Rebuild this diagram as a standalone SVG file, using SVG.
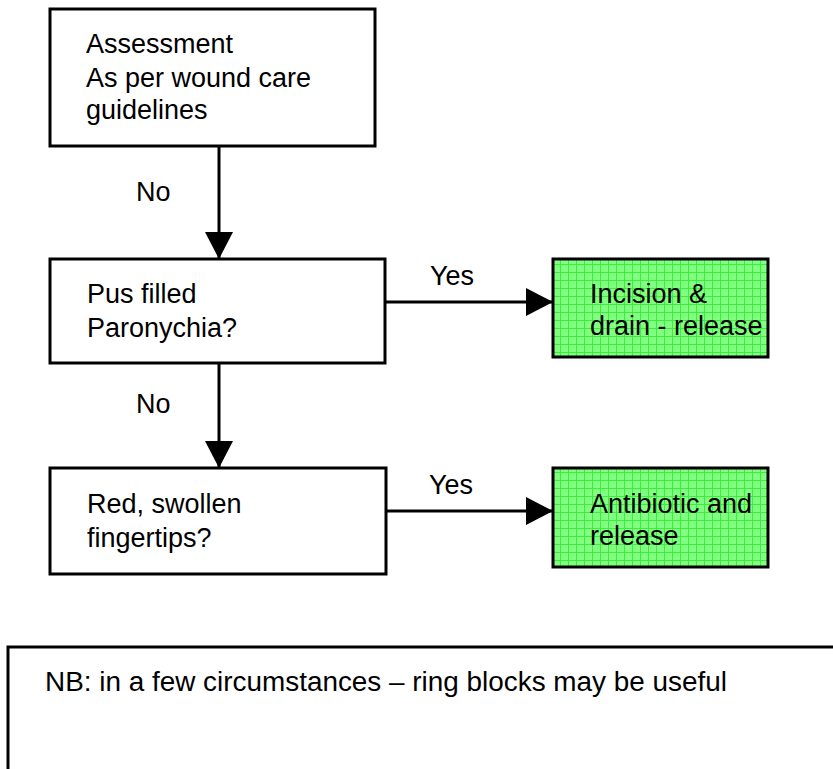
<svg xmlns="http://www.w3.org/2000/svg" width="833" height="769" viewBox="0 0 833 769">
<style>
.box{fill:#fff;stroke:#000;stroke-width:3}
.gbox{fill:url(#grid);stroke:#000;stroke-width:3}
.t{font-family:"Liberation Sans",Arial,sans-serif;font-size:27px;fill:#000}
.c{stroke:#000;stroke-width:3;fill:none}
</style>
<defs>
<pattern id="grid" width="8" height="8" patternUnits="userSpaceOnUse">
<rect width="8" height="8" fill="#80FF80"/>
<path d="M0 0.5H8M0.5 0V8" stroke="#3EEB3E" stroke-width="1"/>
</pattern>
<marker id="ah" markerWidth="27" markerHeight="28" refX="27" refY="14" orient="auto" markerUnits="userSpaceOnUse">
<path d="M0 0L27 14L0 28Z" fill="#000"/>
</marker>
</defs>
<g id="connectors">
<line class="c" x1="219" y1="146" x2="219" y2="259" marker-end="url(#ah)"/>
<line class="c" x1="219" y1="363" x2="219" y2="468" marker-end="url(#ah)"/>
<line class="c" x1="385" y1="302" x2="553" y2="302" marker-end="url(#ah)"/>
<line class="c" x1="386" y1="511" x2="553" y2="511" marker-end="url(#ah)"/>
<text class="t" x="136" y="201">No</text>
<text class="t" x="136" y="413">No</text>
<text class="t" x="430" y="285">Yes</text>
<text class="t" x="429" y="494">Yes</text>
</g>
<g id="assessment">
<rect class="box" x="50" y="9" width="325" height="137"/>
<text class="t" x="86" y="53">Assessment</text>
<text class="t" x="86" y="87">As per wound care</text>
<text class="t" x="86" y="119">guidelines</text>
</g>
<g id="pus">
<rect class="box" x="50" y="259" width="335" height="104"/>
<text class="t" x="87" y="303">Pus filled</text>
<text class="t" x="87" y="337">Paronychia?</text>
</g>
<g id="red">
<rect class="box" x="50" y="468" width="336" height="106"/>
<text class="t" x="87" y="513">Red, swollen</text>
<text class="t" x="87" y="547">fingertips?</text>
</g>
<g id="incision">
<rect class="gbox" x="553" y="259" width="215" height="98"/>
<text class="t" x="590" y="303">Incision &amp;</text>
<text class="t" x="590" y="335">drain - release</text>
</g>
<g id="antibiotic">
<rect class="gbox" x="553" y="468" width="215" height="99"/>
<text class="t" x="590" y="513">Antibiotic and</text>
<text class="t" x="590" y="545">release</text>
</g>
<g id="note">
<rect class="box" x="8" y="647" width="840" height="140"/>
<text class="t" x="45" y="691" font-size="28" textLength="682" lengthAdjust="spacingAndGlyphs">NB: in a few circumstances – ring blocks may be useful</text>
</g>
</svg>
